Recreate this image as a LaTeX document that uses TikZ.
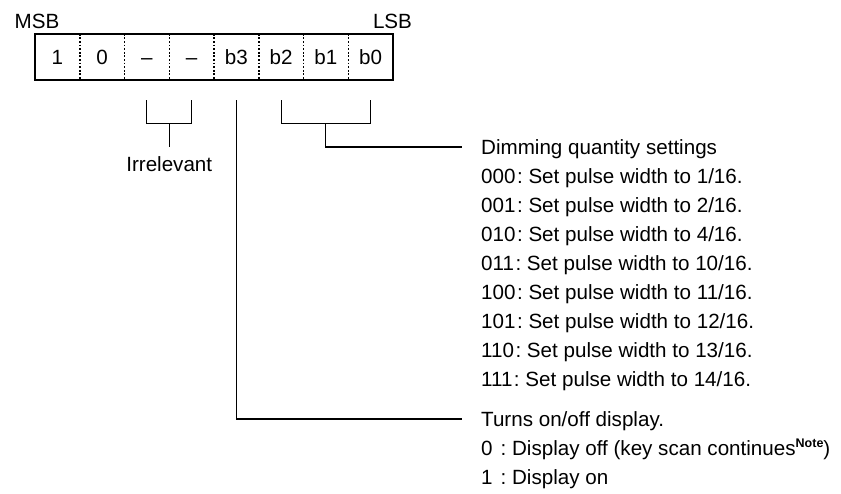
\documentclass[tikz,border=0pt]{standalone}
\usepackage{fontspec}
\setmainfont{Liberation Sans}
\usetikzlibrary{calc}
\newcommand{\bitrow}[2]{#1\kern1.5pt:\ #2}
\begin{document}
\begin{tikzpicture}[x=1pt,y=-1pt,
  lbl/.style={inner sep=0pt, font=\fontsize{20.6}{29}\selectfont},
  cell/.style={lbl, minimum width=44.75pt, minimum height=46pt, text height=14.7pt, text depth=0pt, anchor=center},
  frame/.style={line width=2.2pt},
  divider/.style={line width=1.5pt, dash pattern=on 1.8pt off 1.8pt},
  conn/.style={line width=1.1pt}]
\useasboundingbox (0,0) rectangle (841,493);
% register cells
\foreach \i/\t in {0/1,1/0,2/--,3/--,4/b3,5/b2,6/b1,7/b0}
  \node[cell] (c\i) at ({35+44.75*(\i+0.5)},57) {\t};
\foreach \i in {0,...,6}
  \draw[divider] (c\i.north east) -- (c\i.south east);
\draw[frame] (c0.north west) rectangle (c7.south east);
\node[lbl, anchor=base] (msb) at (37,28) {MSB};
\node[lbl, anchor=base] (lsb) at (392.5,28) {LSB};
% irrelevant bracket
\coordinate (ir2) at ($(c2.south)+(0,20)$);
\coordinate (ir3) at ($(c3.south)+(0,20)$);
\coordinate (irm) at ($(ir2)!0.5!(ir3)+(0,23)$);
\coordinate (ire) at ($(irm)+(0,24)$);
\draw[conn] (ir2) -- ++(0,23) -| (ir3);
\draw[conn] (irm) -- (ire);
\node[lbl, anchor=base] (irr) at (169.25,171.5) {Irrelevant};
% b3 connector
\coordinate (b3t) at ($(c4.south)+(0,20)$);
\coordinate (b3e) at (462,419);
\draw[conn] (b3t) |- (b3e);
% b2..b0 bracket
\coordinate (b2t) at ($(c5.south)+(0,20)$);
\coordinate (b0t) at ($(c7.south)+(0,20)$);
\coordinate (bm) at ($(b2t)!0.5!(b0t)+(0,23)$);
\coordinate (dime) at (462,147);
\draw[conn] (b2t) -- ++(0,23) -| (b0t);
\draw[conn] (bm) |- (dime);
% texts
\node[lbl, anchor=base west] (dim) at (481,154.4) {Dimming quantity settings};
\node[lbl, anchor=base west] (r0) at (481,183.4) {\bitrow{000}{Set pulse width to 1/16.}};
\node[lbl, anchor=base west] (r1) at (481,212.4) {\bitrow{001}{Set pulse width to 2/16.}};
\node[lbl, anchor=base west] (r2) at (481,241.4) {\bitrow{010}{Set pulse width to 4/16.}};
\node[lbl, anchor=base west] (r3) at (481,270.4) {\bitrow{011}{Set pulse width to 10/16.}};
\node[lbl, anchor=base west] (r4) at (481,299.4) {\bitrow{100}{Set pulse width to 11/16.}};
\node[lbl, anchor=base west] (r5) at (481,328.4) {\bitrow{101}{Set pulse width to 12/16.}};
\node[lbl, anchor=base west] (r6) at (481,357.4) {\bitrow{110}{Set pulse width to 13/16.}};
\node[lbl, anchor=base west] (r7) at (481,386.4) {\bitrow{111}{Set pulse width to 14/16.}};
\node[lbl, anchor=base west] (onoff) at (481,426.4) {Turns on/off display.};
\node[lbl, anchor=base west] (off) at (481,455.4) {0\kern8pt:\ Display off (key scan continues\raisebox{7.5pt}{\fontsize{12.5}{12}\selectfont\bfseries Note})};
\node[lbl, anchor=base west] (on) at (481,484.4) {1\kern8pt:\ Display on};
\end{tikzpicture}
\end{document}
